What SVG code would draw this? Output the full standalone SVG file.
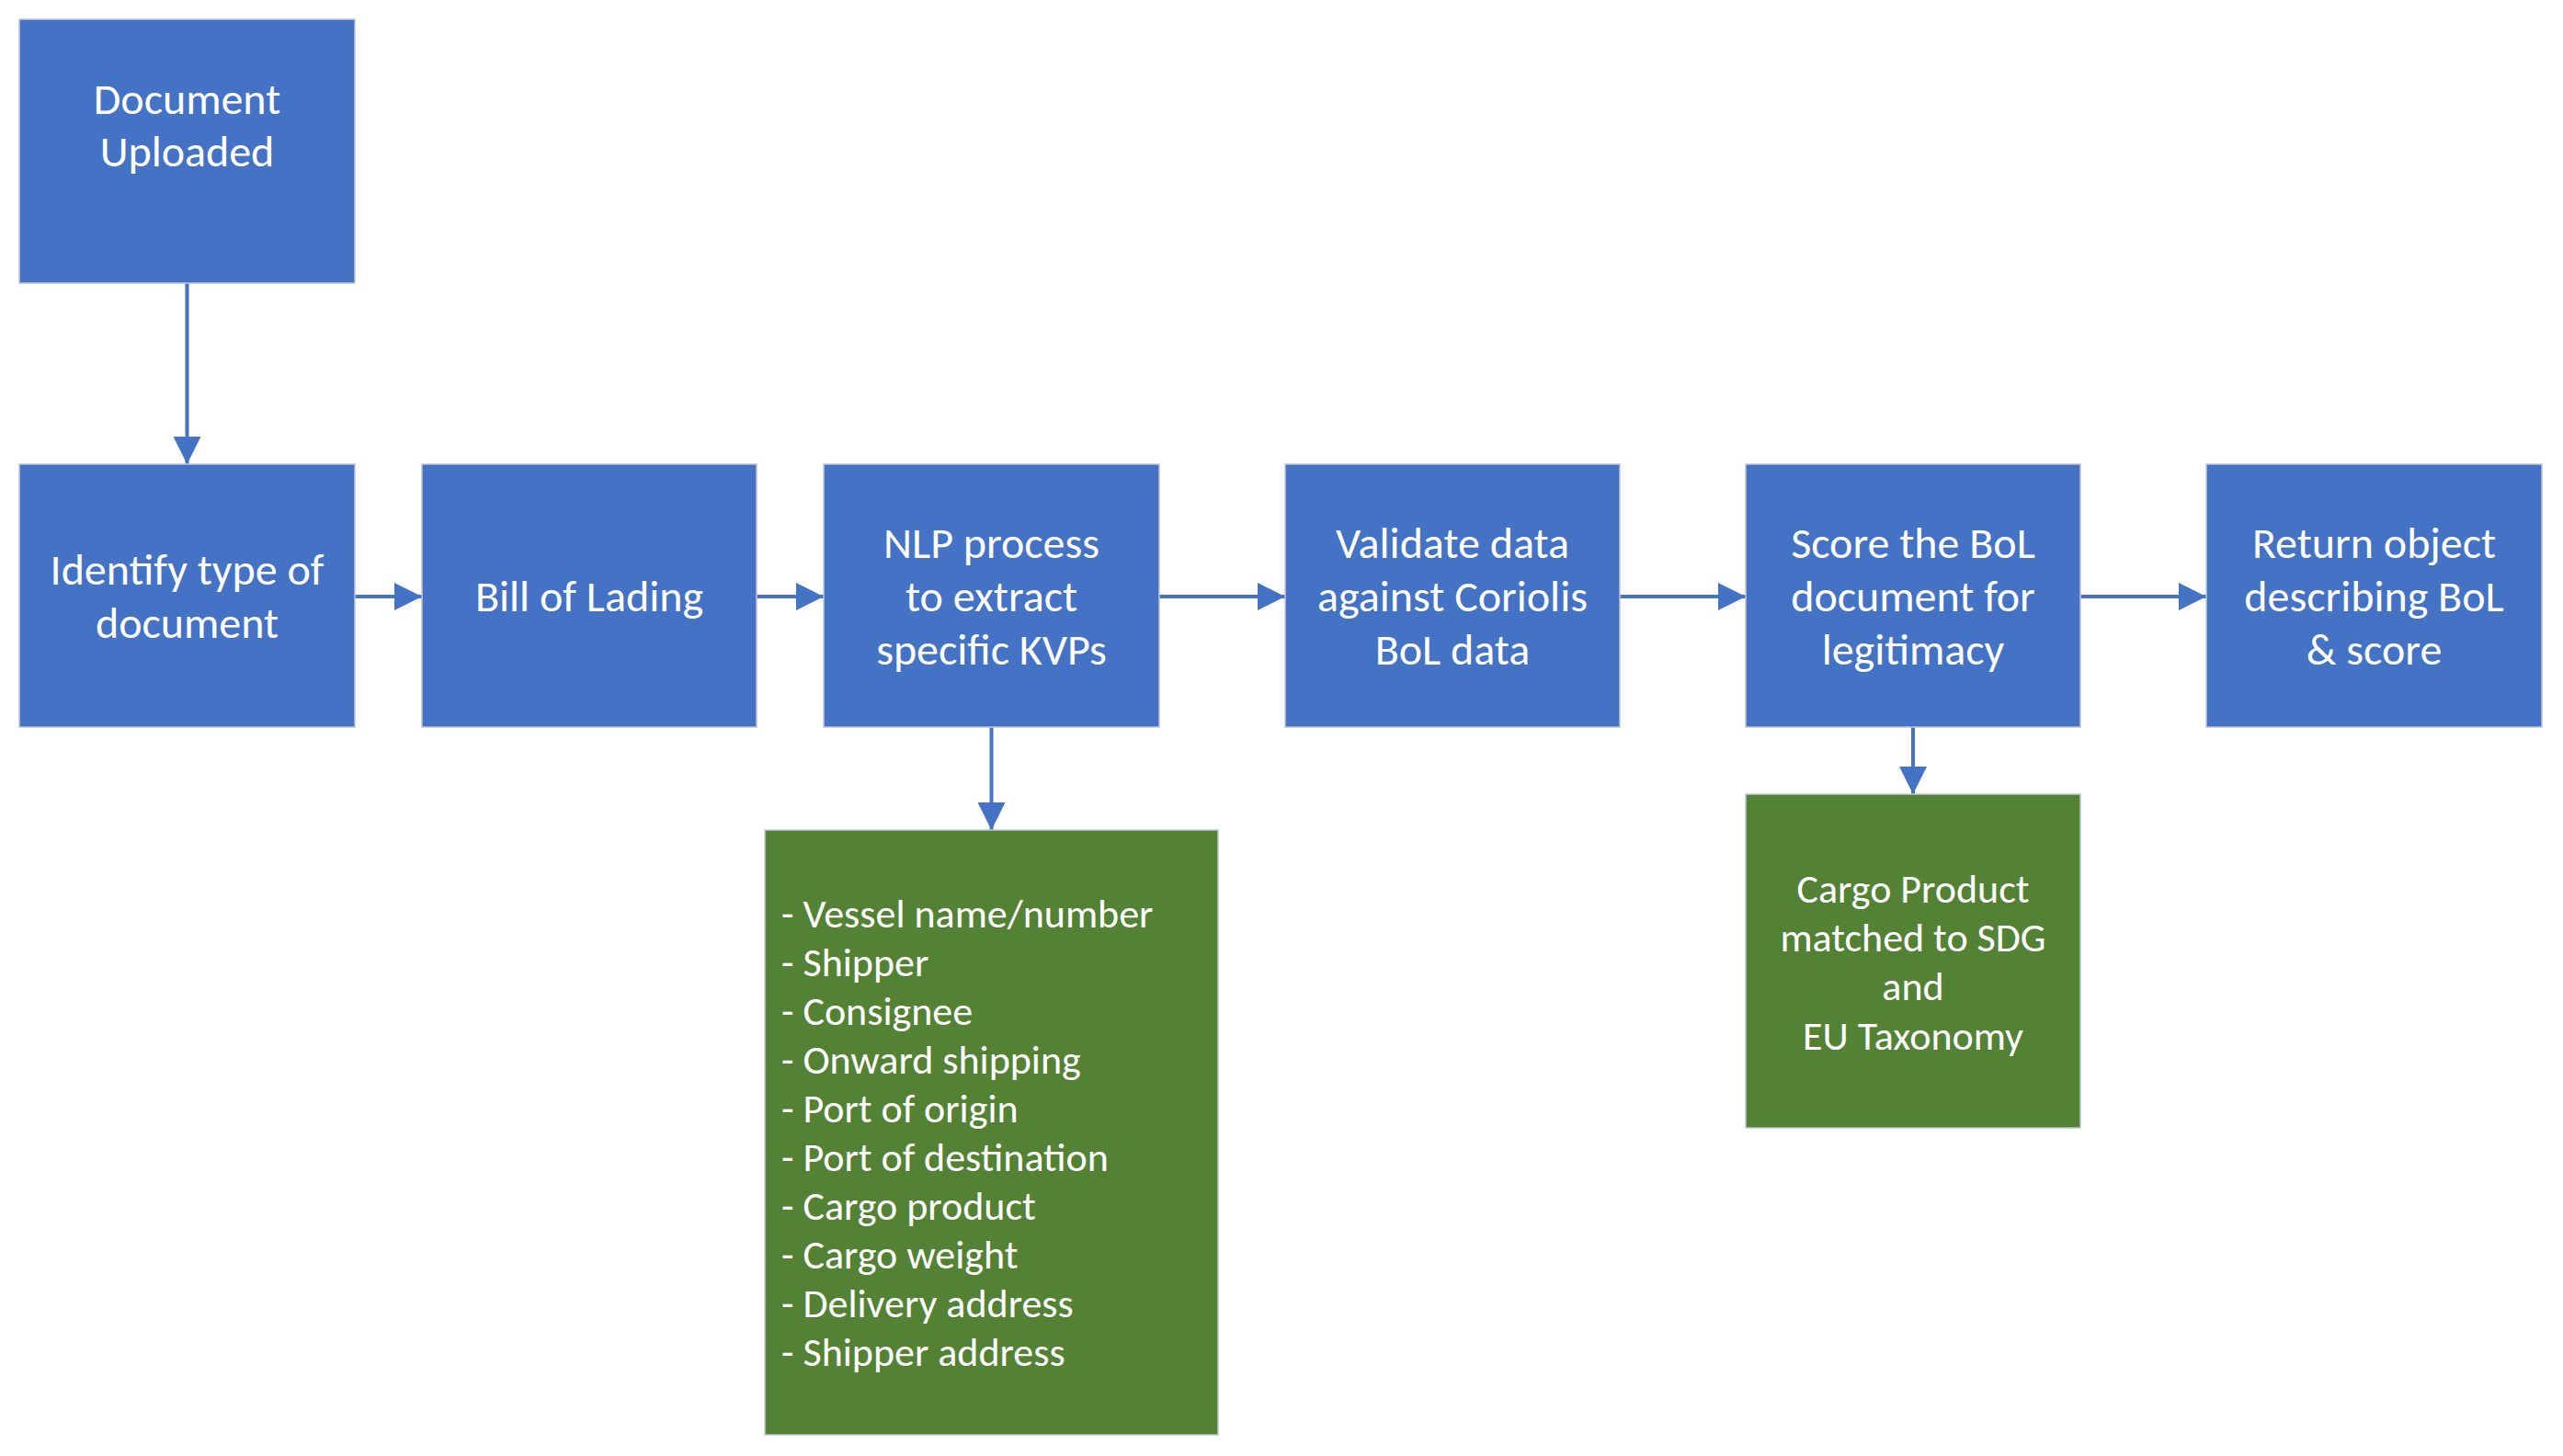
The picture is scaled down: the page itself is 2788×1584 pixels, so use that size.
<svg xmlns="http://www.w3.org/2000/svg" width="2788" height="1584" viewBox="0 0 2788 1584">
<style>
.blue{fill:#4472C4;stroke:#BFC6D3;stroke-width:1.5}
.green{fill:#548235;stroke:#BFC6D3;stroke-width:1.5}
.t{fill:#FFFFFF;font-family:Calibri,Carlito,Lato,"Open Sans",sans-serif;font-size:48px;text-anchor:middle}
.s{font-size:44px}
.l{text-anchor:start}
.c{stroke:#4472C4;stroke-width:4;fill:none;marker-end:url(#ah)}
</style>
<defs>
<marker id="ah" markerUnits="userSpaceOnUse" markerWidth="30" markerHeight="30" viewBox="0 0 28 28" refX="28" refY="14" orient="auto">
<path d="M0,0 L28,14 L0,28 Z" fill="#4472C4"/>
</marker>
</defs>
<rect width="2788" height="1584" fill="#FFFFFF"/>
<g id="connectors">
<line class="c" x1="203.5" y1="308" x2="203.5" y2="505"/>
<line class="c" x1="386" y1="649" x2="459" y2="649"/>
<line class="c" x1="823" y1="649" x2="896" y2="649"/>
<line class="c" x1="1261" y1="649" x2="1398" y2="649"/>
<line class="c" x1="1762" y1="649" x2="1899" y2="649"/>
<line class="c" x1="2263" y1="649" x2="2400" y2="649"/>
<line class="c" x1="1078.5" y1="791" x2="1078.5" y2="903"/>
<line class="c" x1="2081" y1="791" x2="2081" y2="864"/>
</g>
<g id="doc-uploaded">
<rect class="blue" x="21" y="21" width="365" height="287"/>
<text class="t" x="203.5" y="124">Document</text>
<text class="t" x="203.5" y="181">Uploaded</text>
</g>
<g id="identify-type">
<rect class="blue" x="21" y="505" width="365" height="286"/>
<text class="t" x="203.5" y="636">Identify type of</text>
<text class="t" x="203.5" y="694">document</text>
</g>
<g id="bill-of-lading">
<rect class="blue" x="459" y="505" width="364" height="286"/>
<text class="t" x="641" y="665">Bill of Lading</text>
</g>
<g id="nlp-process">
<rect class="blue" x="896" y="505" width="365" height="286"/>
<text class="t" x="1078.5" y="607">NLP process</text>
<text class="t" x="1078.5" y="665">to extract</text>
<text class="t" x="1078.5" y="723">specific KVPs</text>
</g>
<g id="validate-data">
<rect class="blue" x="1398" y="505" width="364" height="286"/>
<text class="t" x="1580" y="607">Validate data</text>
<text class="t" x="1580" y="665">against Coriolis</text>
<text class="t" x="1580" y="723">BoL data</text>
</g>
<g id="score-bol">
<rect class="blue" x="1899" y="505" width="364" height="286"/>
<text class="t" x="2081" y="607">Score the BoL</text>
<text class="t" x="2081" y="665">document for</text>
<text class="t" x="2081" y="723">legitimacy</text>
</g>
<g id="return-object">
<rect class="blue" x="2400" y="505" width="365" height="286"/>
<text class="t" x="2582.5" y="607">Return object</text>
<text class="t" x="2582.5" y="665">describing BoL</text>
<text class="t" x="2582.5" y="723">&amp; score</text>
</g>
<g id="kvp-list">
<rect class="green" x="832" y="903" width="493" height="658"/>
<text class="t s l" x="850" y="1009">- Vessel name/number</text>
<text class="t s l" x="850" y="1062">- Shipper</text>
<text class="t s l" x="850" y="1115">- Consignee</text>
<text class="t s l" x="850" y="1168">- Onward shipping</text>
<text class="t s l" x="850" y="1221">- Port of origin</text>
<text class="t s l" x="850" y="1274">- Port of destination</text>
<text class="t s l" x="850" y="1327">- Cargo product</text>
<text class="t s l" x="850" y="1380">- Cargo weight</text>
<text class="t s l" x="850" y="1433">- Delivery address</text>
<text class="t s l" x="850" y="1486">- Shipper address</text>
</g>
<g id="cargo-sdg">
<rect class="green" x="1899" y="864" width="364" height="363"/>
<text class="t s" x="2081" y="982">Cargo Product</text>
<text class="t s" x="2081" y="1035">matched to SDG</text>
<text class="t s" x="2081" y="1088">and</text>
<text class="t s" x="2081" y="1142">EU Taxonomy</text>
</g>
</svg>
